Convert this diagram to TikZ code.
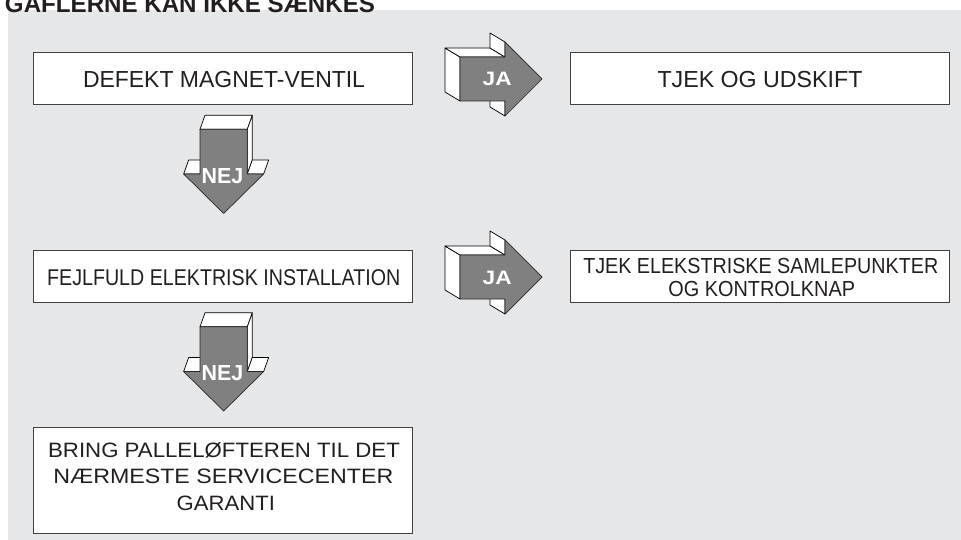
\documentclass[tikz,border=0pt]{standalone}
\usepackage{fontspec}
\setmainfont{Liberation Sans}
\usepackage{graphicx}
\definecolor{bggray}{HTML}{E6E7E8}
\definecolor{arrgray}{HTML}{808080}
\definecolor{ink}{HTML}{231F20}
\newcommand\fitw[3]{\resizebox{#1pt}{\height}{\fontsize{#2}{#2}\selectfont #3}}
\tikzset{
  box/.style={draw=black!75, line width=0.9pt, fill=white, inner sep=0pt},
  lbl/.style={inner sep=0pt, anchor=base, text=ink},
  face/.style={fill=white, draw=black, line width=0.7pt, line join=round},
  front/.style={fill=arrgray, draw=black!85, line width=0.7pt, line join=round},
  arrlbl/.style={inner sep=0pt, anchor=base, text=white, font=\bfseries},
  jaarr/.pic={
    \draw[face] (460,57) -- (460,101) -- (445,92) -- (445,48) -- cycle;
    \draw[face] (460,57) -- (505,57) -- (490,48) -- (445,48) -- cycle;
    \draw[face] (505,57) -- (505,42) -- (490,33) -- (490,48) -- cycle;
    \draw[face] (505,101) -- (505,116) -- (490,107) -- (490,92) -- cycle;
    \draw[front] (460,57) -- (505,57) -- (505,42) -- (542,79) -- (505,116) -- (505,101) -- (460,101) -- cycle;
    \node[arrlbl] (-lbl) at (497.2,86) {\fitw{29}{19.4}{JA}};
  },
  nejarr/.pic={
    \draw[face] (200,129.3) -- (247.3,129.3) -- (252.3,115.3) -- (205,115.3) -- cycle;
    \draw[face] (247.3,129.3) -- (252.3,115.3) -- (252.3,160) -- (247.3,174) -- cycle;
    \draw[face] (247.3,174) -- (263.65,174) -- (268.65,160) -- (252.3,160) -- cycle;
    \draw[face] (183.65,174) -- (200,174) -- (205,160) -- (188.65,160) -- cycle;
    \draw[front] (200,129.3) -- (247.3,129.3) -- (247.3,174) -- (263.65,174) -- (223.65,213.5) -- (183.65,174) -- (200,174) -- cycle;
    \node[arrlbl] (-lbl) at (222.5,183.3) {\fitw{41.7}{21.8}{NEJ}};
  },
}
\begin{document}
\begin{tikzpicture}[x=1pt, y=-1pt]
\useasboundingbox (0,0) rectangle (961,540);
\fill[bggray] (8,10) rectangle (961,540);
\node[lbl, font=\bfseries] (title) at (190,12.5) {\fitw{370}{24.5}{GAFLERNE KAN IKKE SÆNKES}};

% boxes
\node[box, minimum width=379pt, minimum height=52pt] (b1) at (222.5,78) {};
\node[box, minimum width=379pt, minimum height=52pt] (b2) at (759.5,78) {};
\node[box, minimum width=379pt, minimum height=52pt] (b3) at (222.5,276) {};
\node[box, minimum width=379pt, minimum height=52pt] (b4) at (759.5,276) {};
\node[box, minimum width=379pt, minimum height=106pt] (b5) at (222.5,480) {};

% texts
\node[lbl] (t1) at (224,87.7) {\fitw{282}{23.2}{DEFEKT MAGNET-VENTIL}};
\node[lbl] (t2) at (760,87.7) {\fitw{205}{23.2}{TJEK OG UDSKIFT}};
\node[lbl] (t3) at (223.7,285.7) {\fitw{353}{22.8}{FEJLFULD ELEKTRISK INSTALLATION}};
\node[lbl] (t4a) at (760.8,273.3) {\fitw{355}{21.8}{TJEK ELEKSTRISKE SAMLEPUNKTER}};
\node[lbl] (t4b) at (761.7,296.7) {\fitw{186.7}{21.8}{OG KONTROLKNAP}};
\node[lbl] (t5a) at (224,457.7) {\fitw{351.7}{20.8}{BRING PALLELØFTEREN TIL DET}};
\node[lbl] (t5b) at (223.3,483.3) {\fitw{340}{20.8}{NÆRMESTE SERVICECENTER}};
\node[lbl] (t5c) at (225.8,510) {\fitw{98.3}{20.8}{GARANTI}};

% 3D arrows
\pic (ja1) at (0,0) {jaarr};
\pic (ja2) at (0,198) {jaarr};
\pic (nej1) at (0,0) {nejarr};
\pic (nej2) at (0,197.5) {nejarr};
\end{tikzpicture}
\end{document}
